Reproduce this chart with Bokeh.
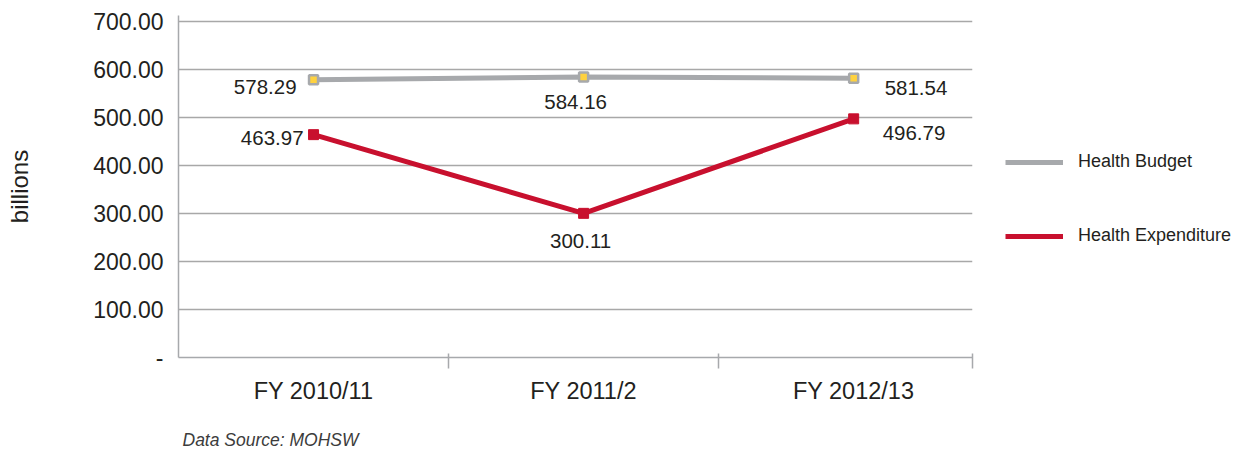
from bokeh.plotting import figure
from bokeh.layouts import row, column
from bokeh.models import Range1d, FixedTicker, Legend, LegendItem, ColumnDataSource
from bokeh.core.properties import value
from bokeh.embed import file_html
from bokeh.resources import INLINE

# ---- data ----
categories = ["FY 2010/11", "FY 2011/2", "FY 2012/13"]
health_budget = [578.29, 584.16, 581.54]
health_expenditure = [463.97, 300.11, 496.79]
y_ticks = [0, 100, 200, 300, 400, 500, 600, 700]
series_names = ["Health Budget", "Health Expenditure"]
source_note = "Data Source: MOHSW"

# ---- label placement (styling) ----
budget_dx = [-17, -8, 31]
budget_dy = [7, 25, 10]
budget_align = ["right", "center", "left"]
exp_dx = [-10, -3, 29]
exp_dy = [3, 28, 14]
exp_align = ["right", "center", "left"]

FONT = "Liberation Sans"
TEXT = "#231f20"
GRID = "#a8a8a8"
GRAY = "#a7a9ac"
RED = "#c8102e"
YELLOW = "#ffd23f"

xpos = list(range(len(categories)))

p = figure(width=982, height=410, output_backend="svg", toolbar_location=None,
           x_range=Range1d(-0.5, 2.44), y_range=Range1d(0, 712),
           min_border_left=178, min_border_right=10, min_border_top=15,
           min_border_bottom=53)
p.outline_line_color = None
p.background_fill_color = "white"
p.border_fill_color = "white"

# y axis
yax = p.yaxis[0]
yax.ticker = FixedTicker(ticks=y_ticks)
yax.major_label_overrides = {t: ("-" if t == 0 else f"{t:.2f}") for t in y_ticks}
yax.major_tick_line_color = None
yax.major_tick_in = 0
yax.major_tick_out = 0
yax.minor_tick_line_color = None
yax.axis_line_color = GRAY
yax.axis_line_width = 1.5
yax.major_label_text_font = FONT
yax.major_label_text_font_size = "23px"
yax.major_label_text_color = TEXT
yax.major_label_standoff = 15
yax.axis_label = "billions"
yax.axis_label_text_font = FONT
yax.axis_label_text_font_size = "24px"
yax.axis_label_text_font_style = "normal"
yax.axis_label_text_color = TEXT
yax.axis_label_standoff = 57

# x axis: labels at category centres, tick marks at band boundaries (minor ticks)
xax = p.xaxis[0]
xax.ticker = FixedTicker(ticks=xpos, minor_ticks=[0.5, 1.5, 2.439])
xax.major_label_overrides = {i: c for i, c in zip(xpos, categories)}
xax.major_tick_line_color = None
xax.major_tick_in = 0
xax.major_tick_out = 0
xax.minor_tick_line_color = GRAY
xax.minor_tick_line_width = 1.5
xax.minor_tick_in = 4
xax.minor_tick_out = 11
xax.axis_line_color = GRAY
xax.axis_line_width = 1.5
xax.major_label_text_font = FONT
xax.major_label_text_font_size = "23.5px"
xax.major_label_text_color = TEXT
xax.major_label_standoff = 9

p.xgrid.visible = False
p.ygrid.grid_line_color = GRID
p.ygrid.grid_line_width = 1.3

# series
b_line = p.line(xpos, health_budget, line_color=GRAY, line_width=5)
b_mark = p.scatter(xpos, health_budget, marker="square", size=9,
                   fill_color=YELLOW, line_color=GRAY, line_width=2.5)
e_line = p.line(xpos, health_expenditure, line_color=RED, line_width=5)
e_mark = p.scatter(xpos, health_expenditure, marker="square", size=10,
                   fill_color=RED, line_color=RED)

bsrc = ColumnDataSource(dict(x=xpos, y=health_budget,
                             t=[f"{v:.2f}" for v in health_budget],
                             dx=budget_dx, dy=budget_dy, al=budget_align))
esrc = ColumnDataSource(dict(x=xpos, y=health_expenditure,
                             t=[f"{v:.2f}" for v in health_expenditure],
                             dx=exp_dx, dy=exp_dy, al=exp_align))
for src in (bsrc, esrc):
    p.text(x="x", y="y", text="t", source=src, x_offset="dx", y_offset="dy",
           text_align="al", text_baseline="middle", text_font=value(FONT),
           text_font_size="20.5px", text_color=TEXT)

# ---- legend panel (separate figure to the right; frame aligned with p) ----
lp = figure(width=256, height=410, output_backend="svg", toolbar_location=None,
            x_range=Range1d(0, 1), y_range=Range1d(0, 1),
            x_axis_location=None, y_axis_location=None,
            min_border_left=0, min_border_right=0, min_border_bottom=53,
            min_border_top=15)
lp.outline_line_color = None
lp.grid.visible = False
lp.background_fill_color = "white"
lp.border_fill_color = "white"
# legend swatches (drawn off-range, only their legend glyphs show)
lg_b = lp.line(x=[10, 11], y=[10, 10], line_color=GRAY, line_width=5)
lg_e = lp.line(x=[10, 11], y=[10, 10], line_color=RED, line_width=5)
legend = Legend(items=[LegendItem(label=series_names[0], renderers=[lg_b]),
                       LegendItem(label=series_names[1], renderers=[lg_e])],
                location=(23, 111), orientation="vertical",
                glyph_width=58, glyph_height=20, label_height=20,
                label_standoff=15, spacing=53, padding=0, margin=0,
                border_line_color=None, background_fill_alpha=0,
                label_text_font=FONT, label_text_font_size="18px",
                label_text_color=TEXT)
lp.add_layout(legend)

# ---- source note strip ----
q = figure(width=982, height=40, output_backend="svg", toolbar_location=None,
           x_range=Range1d(0, 1), y_range=Range1d(0, 1),
           x_axis_location=None, y_axis_location=None,
           min_border_left=0, min_border_right=0, min_border_bottom=0,
           min_border_top=39)
q.outline_line_color = None
q.grid.visible = False
q.background_fill_color = "white"
q.border_fill_color = "white"
q.title.text = source_note
q.title.align = "left"
q.title.offset = 182
q.title.standoff = 0
q.title.text_font = FONT
q.title.text_font_size = "17.5px"
q.title.text_font_style = "italic"
q.title.text_color = "#3c3c3c"

layout = column(row(p, lp), q)
open("out.html", "w").write(file_html(layout, INLINE))
